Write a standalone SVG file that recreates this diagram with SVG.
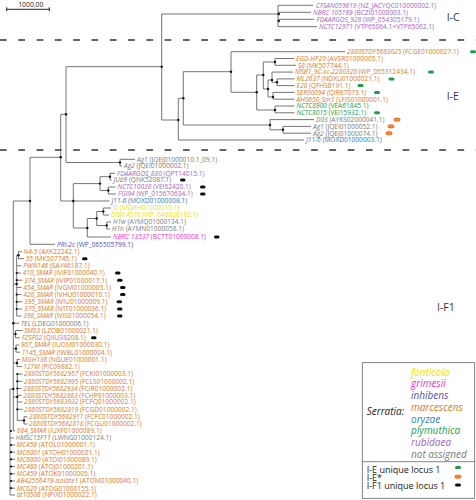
<svg xmlns="http://www.w3.org/2000/svg" width="476" height="500" viewBox="0 0 476 500">
<style>
.t{font-family:"Open Sans","Liberation Sans",sans-serif;font-size:6.6px}
.i{font-style:italic}
.br{fill:none;stroke:#666;stroke-width:0.9}
.dash{fill:none;stroke:#333;stroke-width:1.6;stroke-dasharray:6.7 11.6}
.d{fill:#111}
.mg{fill:#1f9b4b}
.mk{fill:#111}
.mo{fill:#f7941d;stroke:#e4411f;stroke-width:0.7}
.rub{fill:#a266c8}.inh{fill:#5c4db6}.mar{fill:#e07a26}.ory{fill:#2c7cc8}.ply{fill:#23a04b}.fon{fill:#f2e205}.gri{fill:#f232c8}.na{fill:#7c7c7c}
.cl{font-family:"Open Sans","Liberation Sans",sans-serif;font-size:10.5px;fill:#333}
.lg{font-family:"Open Sans","Liberation Sans",sans-serif;font-size:10px;font-style:italic}
.lk{font-family:"Open Sans","Liberation Sans",sans-serif;font-size:9px;fill:#222}
</style>
<rect width="476" height="500" fill="#fff"/>
<g id="scale">
<path d="M6.7 9.3H49.3M6.7 7.3V11.3M49.3 7.3V11.3" stroke="#222" stroke-width="1" fill="none"/>
<text x="30.8" y="7.4" text-anchor="middle" font-family="Open Sans, Liberation Sans, sans-serif" font-size="6.8" fill="#222">1000.00</text>
</g>
<g id="separators">
<line class="dash" x1="0" y1="40" x2="476" y2="40"/>
<line class="dash" x1="0" y1="150" x2="476" y2="150"/>
</g>
<g id="clade-labels">
<text class="cl" x="446.7" y="20.7">I-C</text>
<text class="cl" x="446.7" y="100">I-E</text>
<text class="cl" x="437" y="311">I-F1</text>
</g>
<g id="connectors">
<path class="br" d="M66 66.7H161.7M161.7 14V120M161.7 14H278M278 5.3V26.7M278 5.3H313M278 12.3H311M278 19.3H314M278 26.7H317
M161.7 120H178.3M178.3 98.3V140M178.3 140H304M178.3 98.3H183.3M183.3 71.7V125M183.3 71.7H231M231 51.7V92.3M231 51.7H345M231 92.3H256.7M256.7 75V110M256.7 75H263.3M263.3 62V89M263.3 62H275M275 58.5V65.3M275 58.5H294M275 65.3H296M263.3 89H268M268 80V97M268 80H272M272 72.1V82.3M272 72.1H293M272 82.3H277M277 78.9V85.6M277 78.9H294.5M277 85.6H294.5M268 97H273M273 92.4V99.2M273 92.4H294.5M273 99.2H294.5M256.7 110H275M275 106V112.8M275 106H294.5M275 112.8H294.5M183.3 125H270M270 119.6V129.8M270 119.6H314M270 129.8H283M283 126.4V133.2M283 126.4H311M283 133.2H311
M66 66.7V162.5M66 162.5H120M120 159.3V166M120 159.3H135M120 166H122M60.7 114.3H66M60.7 114.3V201M30 157.3H60.7M30 157.3V244.3M30 244.3H55M13.3 201H30M60.7 201H73.3M73.3 183.6V228M73.3 201H109.5M73.3 183.6H100M100 176.7V190.5M100 176.7H110M110 173.3V180M110 173.3H115M110 180H111.5M100 190.5H108.3M108.3 187V194M108.3 187H115.5M108.3 194H116M73.3 228H87.3M87.3 218.5V237M87.3 237H111M87.3 218.5H96.7M96.7 211.5V225.5M96.7 211.5H103.3M103.3 208V215M103.3 208H111M103.3 215H109M96.7 225.5H106.7M106.7 222V229M106.7 222H111M106.7 229H110
M13.3 201V431M13.3 431H15M10 389V495M10 389H13.3M10 438H14M10 445H15M10 452.2H15M10 459.3H15M10 466.6H15M10 473.8H15M10 481H15M10 488.2H15M10 495H15
M13.3 284H16.7M16.7 255.2V316M16.7 255.2H18.5M18.5 251.7V258.7M18.5 251.7H22M18.5 258.7H24M16.7 265.8H21.5M16.7 273H21M16.7 280.2H22.5M16.7 287.4H21.5M16.7 294.6H21.5M16.7 301.8H22M16.7 309H22M16.7 316H21.5
M13.3 323.2H19M13.3 334H15.5M15.5 330.5V337.8M15.5 330.5H22.5M15.5 337.8H20M13.3 348.6H16M16 345V352.2M16 345H19M16 352.2H20M13.3 363H17M17 359.4V366.6M17 359.4H20M17 366.6H22M13.3 397H17.3M17.3 374V420.4M17.3 374H22.5M17.3 381.3H22.5M17.3 388.5H21.5M17.3 395.3H21.5M17.3 402H22.5M17.3 409.3H22.5M17.3 420.4H24M24 416.8V424M24 416.8H27.5M24 424H27.5"/>
</g>
<g id="internal-nodes" class="d">
<circle cx="161.7" cy="66.7" r="1.2"/><circle cx="178.3" cy="120" r="1.2"/><circle cx="183.3" cy="98.3" r="1.2"/><circle cx="231" cy="71.7" r="1.2"/><circle cx="256.7" cy="92.3" r="1.2"/><circle cx="263.3" cy="75" r="1.2"/><circle cx="275" cy="62" r="1.2"/><circle cx="268" cy="89" r="1.2"/><circle cx="272" cy="80" r="1.2"/><circle cx="277" cy="82.3" r="1.2"/><circle cx="273" cy="97" r="1.2"/><circle cx="275" cy="110" r="1.2"/><circle cx="270" cy="125" r="1.2"/><circle cx="283" cy="129.8" r="1.2"/><circle cx="278.8" cy="14" r="1.2"/><circle cx="278.8" cy="21" r="1.2"/>
<circle cx="66" cy="114.3" r="1.2"/><circle cx="60.7" cy="157.3" r="1.2"/><circle cx="30" cy="201" r="1.2"/><circle cx="120" cy="162.5" r="1.2"/><circle cx="73.3" cy="201" r="1.2"/><circle cx="100" cy="183.6" r="1.2"/><circle cx="110" cy="176.7" r="1.2"/><circle cx="108.3" cy="190.5" r="1.2"/><circle cx="87.3" cy="228" r="1.2"/><circle cx="96.7" cy="218.5" r="1.2"/><circle cx="103.3" cy="211.5" r="1.2"/><circle cx="106.7" cy="225.5" r="1.2"/>
<circle cx="13.3" cy="389" r="1.2"/><circle cx="16.7" cy="284" r="1.2"/><circle cx="18.5" cy="255.2" r="1.2"/><circle cx="15.5" cy="334" r="1.2"/><circle cx="16" cy="348.6" r="1.2"/><circle cx="17" cy="363" r="1.2"/><circle cx="17.3" cy="397" r="1.2"/><circle cx="24" cy="420.4" r="1.2"/><circle cx="13.3" cy="323.2" r="1.2"/>
<circle cx="16.7" cy="273" r="1.1"/><circle cx="16.7" cy="280.2" r="1.1"/><circle cx="16.7" cy="294.6" r="1.1"/><circle cx="16.7" cy="301.8" r="1.1"/><circle cx="16.7" cy="309" r="1.1"/><circle cx="17.3" cy="374" r="1.1"/><circle cx="17.3" cy="381.3" r="1.1"/><circle cx="17.3" cy="388.5" r="1.1"/><circle cx="17.3" cy="409.3" r="1.1"/><circle cx="11" cy="431" r="1.1"/><circle cx="11" cy="445" r="1.1"/><circle cx="11" cy="452.2" r="1.1"/><circle cx="11" cy="459.3" r="1.1"/><circle cx="11" cy="466.6" r="1.1"/><circle cx="11" cy="473.8" r="1.1"/><circle cx="11" cy="481" r="1.1"/><circle cx="11" cy="488.2" r="1.1"/>
</g>
<g id="leaves-IC">
<g id="ic-cfsan059619"><text class="t rub" x="316" y="7.6"><tspan class="i">CFSAN059619</tspan> (NZ_JACYQC010000002.1)</text></g>
<g id="ic-nbrc105169"><text class="t rub" x="313" y="14.6"><tspan class="i">NBRC 105169</tspan> (BCZI01000003.1)</text></g>
<g id="ic-fdaargos926"><text class="t rub" x="316.5" y="21.6"><tspan class="i">FDAARGOS_926</tspan> (WP_054305179.1)</text></g>
<g id="ic-nctc12971"><text class="t rub" x="319" y="29"><tspan class="i">NCTC12971</tspan> (VTP65064.1+VTP65062.1)</text></g>
</g>
<g id="leaves-IE">
<g id="ie-2880stdy5683025"><text class="t mar" x="347" y="54"><tspan class="i">2880STDY5683025</tspan> (FCGE01000027.1)</text><rect class="mg" x="470" y="50.2" width="6" height="3" rx="1.5"/></g>
<g id="ie-egdhp20"><text class="t mar" x="296" y="60.8"><tspan class="i">EGD-HP20</tspan> (AVSR01000005.1)</text></g>
<g id="ie-s8"><text class="t mar" x="298" y="67.6"><tspan class="i">S8</tspan> (MK507744.1)</text></g>
<g id="ie-msb1"><text class="t mar" x="295" y="74.4"><tspan class="i">MSB1_9C-sc-2280320</tspan> (WP_055312434.1)</text><rect class="mg" x="428" y="70.6" width="6" height="3" rx="1.5"/></g>
<g id="ie-ml2637"><text class="t mar" x="296.5" y="81.2"><tspan class="i">ML2637</tspan> (NDXU01000021.1)</text><rect class="mg" x="388.5" y="77.4" width="6" height="3" rx="1.5"/></g>
<g id="ie-e28"><text class="t mar" x="296.5" y="87.9"><tspan class="i">E28</tspan> (QFHS8191.1)</text><rect class="mg" x="357.5" y="84.1" width="6" height="3" rx="1.5"/></g>
<g id="ie-ser00094"><text class="t mar" x="296.5" y="94.7"><tspan class="i">SER00094</tspan> (QIR67073.1)</text><rect class="mg" x="374" y="90.9" width="6" height="3" rx="1.5"/></g>
<g id="ie-ah0650"><text class="t mar" x="296.5" y="101.5"><tspan class="i">AH0650_Sm1</tspan> (LFJS01000001.1)</text></g>
<g id="ie-nctc8900"><text class="t ply" x="296.5" y="108.3"><tspan class="i">NCTC8900</tspan> (VEA61845.1)</text></g>
<g id="ie-nctc8015"><text class="t ply" x="296.5" y="115.1"><tspan class="i">NCTC8015</tspan> (VEI15932.1)</text><rect class="mg" x="374" y="111.3" width="6" height="3" rx="1.5"/></g>
<g id="ie-d03"><text class="t na" x="316" y="121.9"><tspan class="i">D03</tspan> (AYKS02000041.1)</text><rect class="mo" x="394" y="118.1" width="6" height="3" rx="1.5"/></g>
<g id="ie-ag1"><text class="t na" x="313" y="128.7"><tspan class="i">Ag1</tspan> (JQEI01000052.1)</text><rect class="mo" x="388" y="124.9" width="6" height="3" rx="1.5"/></g>
<g id="ie-ag2"><text class="t na" x="313" y="135.5"><tspan class="i">Ag2</tspan> (JQEJ01000074.1)</text><rect class="mo" x="386" y="131.7" width="6" height="3" rx="1.5"/></g>
<g id="ie-j116"><text class="t ory" x="306" y="142.3"><tspan class="i">J11-6</tspan> (MOXD01000003.1)</text></g>
</g>
<g id="leaves-IF1">
<g id="if-ag1"><text class="t na" x="137" y="161.6"><tspan class="i">Ag1</tspan> (JQEJ01000010.1_09.1)</text></g>
<g id="if-ag2"><text class="t na" x="124" y="168.3"><tspan class="i">Ag2</tspan> (JQEI01000002.1)</text></g>
<g id="if-fdaargos880"><text class="t rub" x="117" y="175.6"><tspan class="i">FDAARGOS_880</tspan> (QPT14015.1)</text></g>
<g id="if-jub9"><text class="t na" x="113.5" y="182.3"><tspan class="i">JUb9</tspan> (QNK52087.1)</text><rect class="mk" x="180" y="178.5" width="5.5" height="3" rx="1.5"/></g>
<g id="if-nctc10036"><text class="t rub" x="117.5" y="189.3"><tspan class="i">NCTC10036</tspan> (VEI62420.1)</text><rect class="mk" x="200" y="185.5" width="5.5" height="3" rx="1.5"/></g>
<g id="if-fgi94"><text class="t rub" x="118" y="196.3"><tspan class="i">FGI94</tspan> (WP_015670634.1)</text><rect class="mk" x="200" y="192.5" width="5.5" height="3" rx="1.5"/></g>
<g id="if-j116"><text class="t ory" x="111.5" y="203.3"><tspan class="i">J11-6</tspan> (MOXD01000008.1)</text></g>
<g id="if-si"><text class="t fon" x="113" y="210.3"><tspan class="i">SI</tspan> (MQRH01000015.1)</text></g>
<g id="if-dsm4576"><text class="t fon" x="111" y="217.3"><tspan class="i">DSM 4576</tspan> (WP_046808182.1)</text></g>
<g id="if-h1w"><text class="t na" x="113" y="224.3"><tspan class="i">H1w</tspan> (AYMQ01000134.1)</text></g>
<g id="if-h1n"><text class="t na" x="112" y="231.3"><tspan class="i">H1n</tspan> (AYMN01000058.1)</text></g>
<g id="if-nbrc13537"><text class="t gri" x="113" y="239.3"><tspan class="i">NBRC 13537</tspan> (BCTT01000008.1)</text><rect class="mk" x="214" y="235.5" width="5.5" height="3" rx="1.5"/></g>
<g id="if-pri2c"><text class="t inh" x="57" y="246.6"><tspan class="i">PRI-2c</tspan> (WP_065505799.1)</text></g>
<g id="if-n45"><text class="t mar" x="23.5" y="254"><tspan class="i">N4-5</tspan> (AXK22242.1)</text></g>
<g id="if-55"><text class="t mar" x="25.7" y="261"><tspan class="i">55</tspan> (MK507745.1)</text><rect class="mk" x="82" y="257.2" width="5.5" height="3" rx="1.5"/></g>
<g id="if-pwn146"><text class="t mar" x="23.3" y="268.1"><tspan class="i">PWN146</tspan> (SAY46187.1)</text></g>
<g id="if-410smar"><text class="t mar" x="22.7" y="275.3"><tspan class="i">410_SMAR</tspan> (IVIF01000040.1)</text><rect class="mk" x="115" y="271.5" width="5.5" height="3" rx="1.5"/></g>
<g id="if-374smar"><text class="t mar" x="24.3" y="282.5"><tspan class="i">374_SMAR</tspan> (IVIP01000017.1)</text><rect class="mk" x="117" y="278.7" width="5.5" height="3" rx="1.5"/></g>
<g id="if-454smar"><text class="t mar" x="23.3" y="289.7"><tspan class="i">454_SMAR</tspan> (IVGM01000005.1)</text><rect class="mk" x="120" y="285.9" width="5.5" height="3" rx="1.5"/></g>
<g id="if-420smar"><text class="t mar" x="23.3" y="296.9"><tspan class="i">420_SMAR</tspan> (IVHU01000010.1)</text><rect class="mk" x="120" y="293.1" width="5.5" height="3" rx="1.5"/></g>
<g id="if-395smar"><text class="t mar" x="24" y="304.1"><tspan class="i">395_SMAR</tspan> (IVIU01000009.1)</text><rect class="mk" x="116.5" y="300.3" width="5.5" height="3" rx="1.5"/></g>
<g id="if-370smar"><text class="t mar" x="24" y="311.3"><tspan class="i">370_SMAR</tspan> (IVIT01000036.1)</text><rect class="mk" x="117" y="307.5" width="5.5" height="3" rx="1.5"/></g>
<g id="if-398smar"><text class="t mar" x="23.3" y="318.3"><tspan class="i">398_SMAR</tspan> (IVIS01000054.1)</text><rect class="mk" x="117" y="314.5" width="5.5" height="3" rx="1.5"/></g>
<g id="if-tel"><text class="t na" x="20.7" y="325.5"><tspan class="i">TEL</tspan> (LDEG01000006.1)</text></g>
<g id="if-sm03"><text class="t mar" x="24" y="332.8"><tspan class="i">SM03</tspan> (LZOB01000021.1)</text></g>
<g id="if-fzsf02"><text class="t mar" x="21.7" y="340.1"><tspan class="i">FZSF02</tspan> (QIIU38208.1)</text><rect class="mk" x="91" y="336.3" width="5.5" height="3" rx="1.5"/></g>
<g id="if-907smar"><text class="t mar" x="20.7" y="347.3"><tspan class="i">907_SMAR</tspan> (IUOM01000030.1)</text></g>
<g id="if-1145smar"><text class="t mar" x="21.7" y="354.5"><tspan class="i">1145_SMAR</tspan> (IWBL01000004.1)</text></g>
<g id="if-mgh136"><text class="t mar" x="21.7" y="361.7"><tspan class="i">MGH136</tspan> (NGUE01000001.1)</text></g>
<g id="if-127m"><text class="t mar" x="23.3" y="368.9"><tspan class="i">127M</tspan> (PIC09882.1)</text></g>
<g id="if-2957"><text class="t mar" x="24" y="376.3"><tspan class="i">2880STDY5682957</tspan> (FCKI01000003.1)</text></g>
<g id="if-2995"><text class="t mar" x="24" y="383.6"><tspan class="i">2880STDY5682995</tspan> (FCLS01000002.1)</text></g>
<g id="if-2934"><text class="t mar" x="23.3" y="390.8"><tspan class="i">2880STDY5682934</tspan> (FCIR01000002.1)</text></g>
<g id="if-2863"><text class="t mar" x="23.3" y="397.6"><tspan class="i">2880STDY5682863</tspan> (FCHP01000003.1)</text></g>
<g id="if-3032"><text class="t mar" x="24" y="404.3"><tspan class="i">2880STDY5683032</tspan> (FCFQ01000002.1)</text></g>
<g id="if-2819"><text class="t mar" x="24" y="411.6"><tspan class="i">2880STDY5682819</tspan> (FCGD01000002.1)</text></g>
<g id="if-2911"><text class="t mar" x="29" y="419.1"><tspan class="i">2880STDY5682911</tspan> (FCFC01000002.1)</text></g>
<g id="if-2818"><text class="t mar" x="29" y="426.3"><tspan class="i">2880STDY5682818</tspan> (FCGU01000002.1)</text></g>
<g id="if-684smar"><text class="t mar" x="16.7" y="433.3"><tspan class="i">684_SMAR</tspan> (IUXF01000089.1)</text></g>
<g id="if-hmsc15f11"><text class="t na" x="15.7" y="440.3"><tspan class="i">HMSC15F11</tspan> (LWNG01000124.1)</text></g>
<g id="if-mc458"><text class="t mar" x="16.7" y="447.3"><tspan class="i">MC458</tspan> (ATOL01000001.1)</text></g>
<g id="if-mc6001"><text class="t mar" x="16.7" y="454.5"><tspan class="i">MC6001</tspan> (ATOH01000021.1)</text></g>
<g id="if-mc6000"><text class="t mar" x="16.7" y="461.6"><tspan class="i">MC6000</tspan> (ATOI01000089.1)</text></g>
<g id="if-mc460"><text class="t mar" x="16.7" y="468.9"><tspan class="i">MC460</tspan> (ATOJ01000201.1)</text></g>
<g id="if-mc459"><text class="t mar" x="16.7" y="476.1"><tspan class="i">MC459</tspan> (ATOK01000005.1)</text></g>
<g id="if-ab42556419"><text class="t mar" x="16.7" y="483.3"><tspan class="i">AB42556419-isolate1</tspan> (ATOM01000040.1)</text></g>
<g id="if-mc620"><text class="t mar" x="16.7" y="490.5"><tspan class="i">MC620</tspan> (ATOG01000155.1)</text></g>
<g id="if-at10508"><text class="t mar" x="16.7" y="497.3"><tspan class="i">at10508</tspan> (NPIX01000022.1)</text></g>
</g>
<g id="legend">
<rect x="362.3" y="362.7" width="112.4" height="135.6" fill="#fff" stroke="#666" stroke-width="0.8"/>
<line x1="362.3" y1="461.7" x2="474.7" y2="461.7" stroke="#666" stroke-width="0.8"/>
<text class="lg" x="366.7" y="415" fill="#222">Serratia:</text>
<text class="lg fon" x="411" y="375.5">fonticola</text>
<text class="lg gri" x="411" y="387.2">grimesii</text>
<text class="lg inh" x="411" y="398.9">inhibens</text>
<text class="lg mar" x="411" y="410.6">marcescens</text>
<text class="lg ory" x="411" y="422.5">oryzae</text>
<text class="lg ply" x="411" y="434.2">plymuthica</text>
<text class="lg rub" x="411" y="446.1">rubidaea</text>
<text class="lg na" x="411" y="458.3">not assigned</text>
<text class="lk" x="366.7" y="472.8">I-E unique locus 1</text>
<text class="lk" x="366.7" y="481">I-E*</text>
<text class="lk" x="366.7" y="489.2">I-F1 unique locus 1</text>
<rect class="mg" x="455" y="466" width="6" height="3" rx="1.5"/>
<rect class="mo" x="455" y="475.2" width="6" height="3" rx="1.5"/>
<rect class="mk" x="455" y="483.5" width="6" height="3" rx="1.5"/>
</g>
</svg>
